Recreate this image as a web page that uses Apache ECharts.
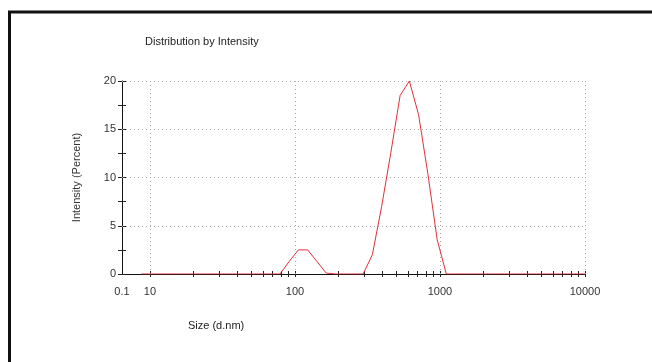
<!DOCTYPE html>
<html><head><meta charset="utf-8">
<script src="https://cdn.jsdelivr.net/npm/echarts@6/dist/echarts.min.js"></script>
<style>html,body{margin:0;padding:0;background:#fff}#c{width:652px;height:362px}</style>
</head><body><div id="c"></div>
<script>
// Size bins (d.nm) and intensity (%)
const sizes = [8.721,10.10,11.70,13.54,15.69,18.17,21.04,24.36,28.21,32.67,37.84,43.82,50.75,58.77,68.06,78.82,91.28,105.7,122.4,141.8,164.2,190.1,220.2,255.0,295.3,342.0,396.1,458.7,531.2,615.1,712.4,825.0,955.4,1106,1281,1484,1718,1990,2305,2669,3091,3580,4145,4801,5560,6439,7456,8635,10000];
const intensity = [0,0,0,0,0,0,0,0,0,0,0,0,0,0,0,0,1.3,2.5,2.5,1.3,0.1,0,0,0,0,2.0,7.0,12.6,18.5,20.0,16.5,10.4,3.6,0,0,0,0,0,0,0,0,0,0,0,0,0,0,0,0];
const xTickLabels = ['0.1','10','100','1000','10000'];
const yTicks = [0,5,10,15,20];
const title = 'Distribution by Intensity';
const yName = 'Intensity (Percent)';
const xName = 'Size (d.nm)';

const L = Math.log10;
const xMin = 0.8076, xMax = 4;
const labelVals = [xMin, 1, 2, 3, 4];
const minorVals = [];
[10,100,1000].forEach(d => { for (let k = 1; k <= 9; k++) minorVals.push(L(d*k)); });
minorVals.push(4);
const decadeVals = [1,2,3,4];

const chart = echarts.init(document.getElementById('c'), null, {renderer:'canvas'});
const font = 'Liberation Sans, Arial, sans-serif';
const baseX = {
  type:'value', min:xMin, max:xMax, position:'bottom',
  splitLine:{show:false}
};
const baseY = {type:'value', min:0, max:20, interval:5, position:'left', splitLine:{show:false}};
chart.setOption({
  animation:false,
  grid:{left:122, right:67, top:81, bottom:88},
  graphic:[
    {type:'rect', shape:{x:9.5, y:12, width:720, height:420}, style:{fill:null, stroke:'#111', lineWidth:3}},
    {type:'text', left:145, top:36, style:{text:title, font:'11px '+font, fill:'#222'}},
    {type:'text', left:188, top:320, style:{text:xName, font:'11px '+font, fill:'#222'}}
  ],
  xAxis:[
    Object.assign({}, baseX, {
      axisLine:{show:true, lineStyle:{color:'#111', width:1}},
      axisTick:{show:true, customValues:minorVals, length:3, lineStyle:{color:'#222'}},
      axisLabel:{show:true, customValues:labelVals, margin:12, color:'#333', fontSize:11, fontFamily:font,
        formatter: v => v < 0.9 ? xTickLabels[0] : xTickLabels[Math.round(v)]}
    }),
    Object.assign({}, baseX, {
      axisLine:{show:false},
      axisTick:{show:true, inside:true, customValues:minorVals, length:3, lineStyle:{color:'#222'}},
      axisLabel:{show:false}
    })
  ],
  yAxis:[
    Object.assign({}, baseY, {
      axisLine:{show:true, lineStyle:{color:'#111', width:1}},
      axisTick:{show:true, length:4, lineStyle:{color:'#222'}},
      minorTick:{show:true, splitNumber:2, length:4, lineStyle:{color:'#222'}},
      axisLabel:{show:true, margin:6, color:'#333', fontSize:11, fontFamily:font,
        formatter: v => yTicks.includes(v) ? String(v) : ''},
      name:yName, nameLocation:'middle', nameGap:40, nameRotate:90,
      nameTextStyle:{color:'#333', fontSize:11, fontFamily:font}
    }),
    Object.assign({}, baseY, {
      axisLine:{show:false},
      axisTick:{show:true, inside:true, length:4, lineStyle:{color:'#222'}},
      minorTick:{show:true, splitNumber:2, length:4, lineStyle:{color:'#222'}},
      axisLabel:{show:false}
    })
  ],
  series:[{
    type:'line', xAxisIndex:0, yAxisIndex:0,
    data: sizes.map((s,i) => [L(s), intensity[i]]),
    showSymbol:false, symbol:'none',
    lineStyle:{color:'#e0303a', width:1},
    z:5,
    markLine:{
      silent:true, symbol:'none', label:{show:false},
      lineStyle:{color:'#aaa', type:[1,3], width:1},
      data: decadeVals.map(v => ({xAxis:v})).concat(yTicks.slice(1).map(v => ({yAxis:v})))
    }
  }]
});
</script></body></html>
